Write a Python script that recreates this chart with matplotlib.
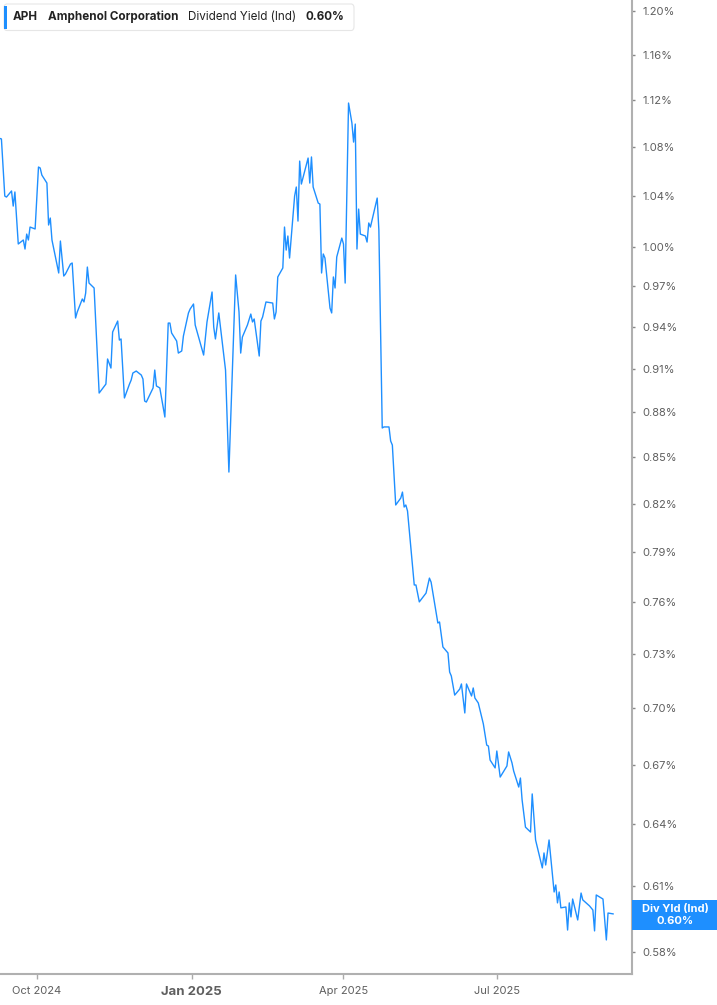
import pandas as pd
import matplotlib
matplotlib.use("Agg")
import matplotlib.pyplot as plt
from matplotlib.patches import FancyBboxPatch, Rectangle

plt.rcParams['font.family'] = ['Inter', 'DejaVu Sans']

# APH indicated dividend yield (%)
dates = [
    "2024-09-09", "2024-09-10", "2024-09-12", "2024-09-13", "2024-09-16", "2024-09-17",
    "2024-09-18", "2024-09-20", "2024-09-23", "2024-09-24", "2024-09-25", "2024-09-26",
    "2024-09-27", "2024-09-30", "2024-10-02", "2024-10-03", "2024-10-04", "2024-10-07",
    "2024-10-08", "2024-10-09", "2024-10-10", "2024-10-14", "2024-10-15", "2024-10-17",
    "2024-10-18", "2024-10-21", "2024-10-22", "2024-10-24", "2024-10-25", "2024-10-28",
    "2024-10-29", "2024-10-30", "2024-10-31", "2024-11-01", "2024-11-04", "2024-11-07",
    "2024-11-11", "2024-11-12", "2024-11-14", "2024-11-15", "2024-11-18", "2024-11-19",
    "2024-11-20", "2024-11-22", "2024-11-25", "2024-11-26", "2024-11-27", "2024-11-29",
    "2024-12-02", "2024-12-03", "2024-12-04", "2024-12-05", "2024-12-09", "2024-12-10",
    "2024-12-11", "2024-12-13", "2024-12-16", "2024-12-18", "2024-12-19", "2024-12-20",
    "2024-12-23", "2024-12-24", "2024-12-26", "2024-12-27", "2024-12-30", "2024-12-31",
    "2025-01-02", "2025-01-03", "2025-01-08", "2025-01-10", "2025-01-13", "2025-01-14",
    "2025-01-15", "2025-01-17", "2025-01-21", "2025-01-23", "2025-01-27", "2025-01-29",
    "2025-01-30", "2025-01-31", "2025-02-03", "2025-02-05", "2025-02-06", "2025-02-07",
    "2025-02-10", "2025-02-11", "2025-02-12", "2025-02-14", "2025-02-18", "2025-02-19",
    "2025-02-20", "2025-02-21", "2025-02-24", "2025-02-25", "2025-02-26", "2025-02-27",
    "2025-02-28", "2025-03-03", "2025-03-04", "2025-03-05", "2025-03-06", "2025-03-07",
    "2025-03-11", "2025-03-12", "2025-03-13", "2025-03-14", "2025-03-17", "2025-03-18",
    "2025-03-19", "2025-03-20", "2025-03-21", "2025-03-24", "2025-03-25", "2025-03-26",
    "2025-03-27", "2025-03-28", "2025-03-31", "2025-04-01", "2025-04-02", "2025-04-04",
    "2025-04-06", "2025-04-07", "2025-04-08", "2025-04-09", "2025-04-10", "2025-04-11",
    "2025-04-14", "2025-04-15", "2025-04-16", "2025-04-17", "2025-04-21", "2025-04-22",
    "2025-04-24", "2025-04-25", "2025-04-28", "2025-04-29", "2025-04-30", "2025-05-02",
    "2025-05-05", "2025-05-06", "2025-05-07", "2025-05-08", "2025-05-09", "2025-05-13",
    "2025-05-14", "2025-05-16", "2025-05-20", "2025-05-22", "2025-05-23", "2025-05-27",
    "2025-05-28", "2025-05-30", "2025-06-02", "2025-06-03", "2025-06-04", "2025-06-06",
    "2025-06-09", "2025-06-10", "2025-06-12", "2025-06-13", "2025-06-16", "2025-06-17",
    "2025-06-18", "2025-06-20", "2025-06-23", "2025-06-25", "2025-06-26", "2025-06-27",
    "2025-06-30", "2025-07-01", "2025-07-03", "2025-07-07", "2025-07-08", "2025-07-10",
    "2025-07-11", "2025-07-14", "2025-07-15", "2025-07-16", "2025-07-18", "2025-07-21",
    "2025-07-22", "2025-07-24", "2025-07-28", "2025-07-29", "2025-07-30", "2025-08-01",
    "2025-08-04", "2025-08-05", "2025-08-06", "2025-08-07", "2025-08-08", "2025-08-11",
    "2025-08-12", "2025-08-13", "2025-08-14", "2025-08-15", "2025-08-18", "2025-08-20",
    "2025-08-21", "2025-08-25", "2025-08-27", "2025-08-28", "2025-08-29", "2025-09-02",
    "2025-09-04", "2025-09-05", "2025-09-08",
]
yields = [
    1.0873, 1.0868, 1.0399, 1.0391, 1.0440, 1.0319,
    1.0432, 1.0021, 1.0052, 0.9982, 1.0098, 1.0052,
    1.0153, 1.0138, 1.0635, 1.0627, 1.0569, 1.0504,
    1.0169, 1.0224, 1.0052, 0.9799, 1.0044, 0.9776,
    0.9791, 0.9867, 0.9875, 0.9464, 0.9508, 0.9604,
    0.9582, 0.9648, 0.9844, 0.9723, 0.9686, 0.8931,
    0.8993, 0.9169, 0.9105, 0.9362, 0.9442, 0.9304,
    0.9312, 0.8897, 0.8993, 0.9021, 0.9070, 0.9084,
    0.9056, 0.9028, 0.8876, 0.8869, 0.8966, 0.9091,
    0.8980, 0.8966, 0.8767, 0.9427, 0.9427, 0.9355,
    0.9297, 0.9211, 0.9226, 0.9333, 0.9501, 0.9530,
    0.9567, 0.9413, 0.9197, 0.9435, 0.9656, 0.9398,
    0.9312, 0.9501, 0.9091, 0.8402, 0.9784, 0.9508,
    0.9211, 0.9326, 0.9413, 0.9493, 0.9435, 0.9457,
    0.9190, 0.9442, 0.9471, 0.9582, 0.9574, 0.9457,
    0.9508, 0.9769, 0.9837, 1.0153, 0.9974, 1.0083,
    0.9913, 1.0399, 1.0472, 1.0200, 1.0684, 1.0496,
    1.0709, 1.0504, 1.0718, 1.0472, 1.0343, 1.0335,
    0.9799, 0.9944, 0.9913, 0.9537, 0.9501, 0.9769,
    0.9686, 0.9921, 1.0067, 1.0021, 0.9723, 1.1174,
    1.1003, 1.0842, 1.0994, 0.9982, 1.0295, 1.0098,
    1.0083, 1.0036, 1.0185, 1.0153, 1.0383, 1.0130,
    0.8693, 0.8700, 0.8700, 0.8606, 0.8579, 0.8191,
    0.8235, 0.8273, 0.8178, 0.8191, 0.8153, 0.7700,
    0.7700, 0.7600, 0.7652, 0.7741, 0.7717, 0.7477,
    0.7483, 0.7340, 0.7306, 0.7199, 0.7177, 0.7072,
    0.7105, 0.7133, 0.6975, 0.7133, 0.7067, 0.7111,
    0.7056, 0.7029, 0.6916, 0.6804, 0.6799, 0.6726,
    0.6685, 0.6773, 0.6638, 0.6695, 0.6768, 0.6711,
    0.6669, 0.6587, 0.6633, 0.6522, 0.6386, 0.6362,
    0.6552, 0.6323, 0.6188, 0.6260, 0.6202, 0.6323,
    0.6074, 0.6107, 0.6023, 0.6074, 0.6000, 0.6004,
    0.5898, 0.6023, 0.5958, 0.6041, 0.5944, 0.6069,
    0.6037, 0.6009, 0.5990, 0.5894, 0.6060, 0.6041,
    0.5853, 0.5976, 0.5972,
]

ytick_vals = [0.58, 0.61, 0.64, 0.67, 0.70, 0.73, 0.76, 0.79, 0.82, 0.85,
              0.88, 0.91, 0.94, 0.97, 1.00, 1.04, 1.08, 1.12, 1.16, 1.20]
xtick_dates = ["2024-10-01", "2025-01-01", "2025-04-01", "2025-07-01"]
xtick_labels = ["Oct 2024", "Jan 2025", "Apr 2025", "Jul 2025"]

ticker = "APH"
company = "Amphenol Corporation"
metric = "Dividend Yield (Ind)"
last_label = "0.60%"

blue = '#1e8fff'
grey_txt = '#5f5f5f'

W, H = 717, 1005
fig = plt.figure(figsize=(W / 100, H / 100), dpi=100)
ax = fig.add_axes([0, 1 - 974 / H, 632.3 / W, 974 / H])

x = pd.to_datetime(dates)
ax.plot(x, yields, color=blue, lw=1.0)

ax.set_yscale('log')
ax.set_ylim(0.5701, 1.2100)
oct1 = pd.Timestamp("2024-10-01")
ax.set_xlim(oct1 - pd.Timedelta(days=21.84), oct1 + pd.Timedelta(days=353.4))

ax.yaxis.tick_right()
ax.yaxis.set_minor_locator(matplotlib.ticker.NullLocator())
ax.set_yticks(ytick_vals)
ax.set_yticklabels(["%.2f%%" % v for v in ytick_vals])
ax.yaxis.set_minor_formatter(matplotlib.ticker.NullFormatter())
ax.tick_params(axis='y', length=2, width=1, color='#888888', pad=5.5,
               labelsize=8, labelcolor=grey_txt)

ax.set_xticks(pd.to_datetime(xtick_dates))
ax.set_xticklabels(xtick_labels)
ax.tick_params(axis='x', length=3.5, width=1, color='#aaaaaa', pad=5,
               labelsize=8, labelcolor=grey_txt)
for lab in ax.get_xticklabels():
    if lab.get_text().startswith("Jan"):
        lab.set_fontweight('bold')
        lab.set_fontsize(9.5)

for s in ['top', 'left']:
    ax.spines[s].set_visible(False)
for s in ['bottom', 'right']:
    ax.spines[s].set_color('#b0b0b0')
    ax.spines[s].set_linewidth(1.5)

# header box
fig.add_artist(FancyBboxPatch((4 / W, 1 - 30.5 / H), 350 / W, 26.5 / H,
                              boxstyle='round,pad=0,rounding_size=0.004',
                              transform=fig.transFigure, facecolor='white',
                              edgecolor='#e6e6e6', lw=0.8, zorder=5))
fig.add_artist(Rectangle((4 / W, 1 - 29.5 / H), 3 / W, 23 / H,
                         transform=fig.transFigure, facecolor=blue,
                         edgecolor='none', zorder=6))
ty = 1 - 17 / H
hs = 8.4
fig.text(13 / W, ty, ticker, fontsize=hs, fontweight='bold', color='#222222',
         va='center', zorder=7)
fig.text(48 / W, ty, company, fontsize=hs, fontweight='bold', color='#222222',
         va='center', zorder=7)
fig.text(188 / W, ty, metric, fontsize=hs, color='#222222', va='center', zorder=7)
fig.text(305 / W, ty, last_label, fontsize=hs, fontweight='bold', color='#222222',
         va='center', zorder=7)

# last value tag on the right axis
fig.add_artist(Rectangle((632.3 / W, 1 - 930 / H), (W - 632.3) / W, 30 / H,
                         transform=fig.transFigure, facecolor=blue,
                         edgecolor='none', zorder=5))
fig.text(675 / W, 1 - 908.5 / H, "Div Yld (Ind)", fontsize=8, fontweight='bold',
         color='white', ha='center', va='center', zorder=6)
fig.text(675 / W, 1 - 920.5 / H, last_label, fontsize=8, fontweight='bold',
         color='white', ha='center', va='center', zorder=6)

fig.savefig("out.png", dpi=100)
